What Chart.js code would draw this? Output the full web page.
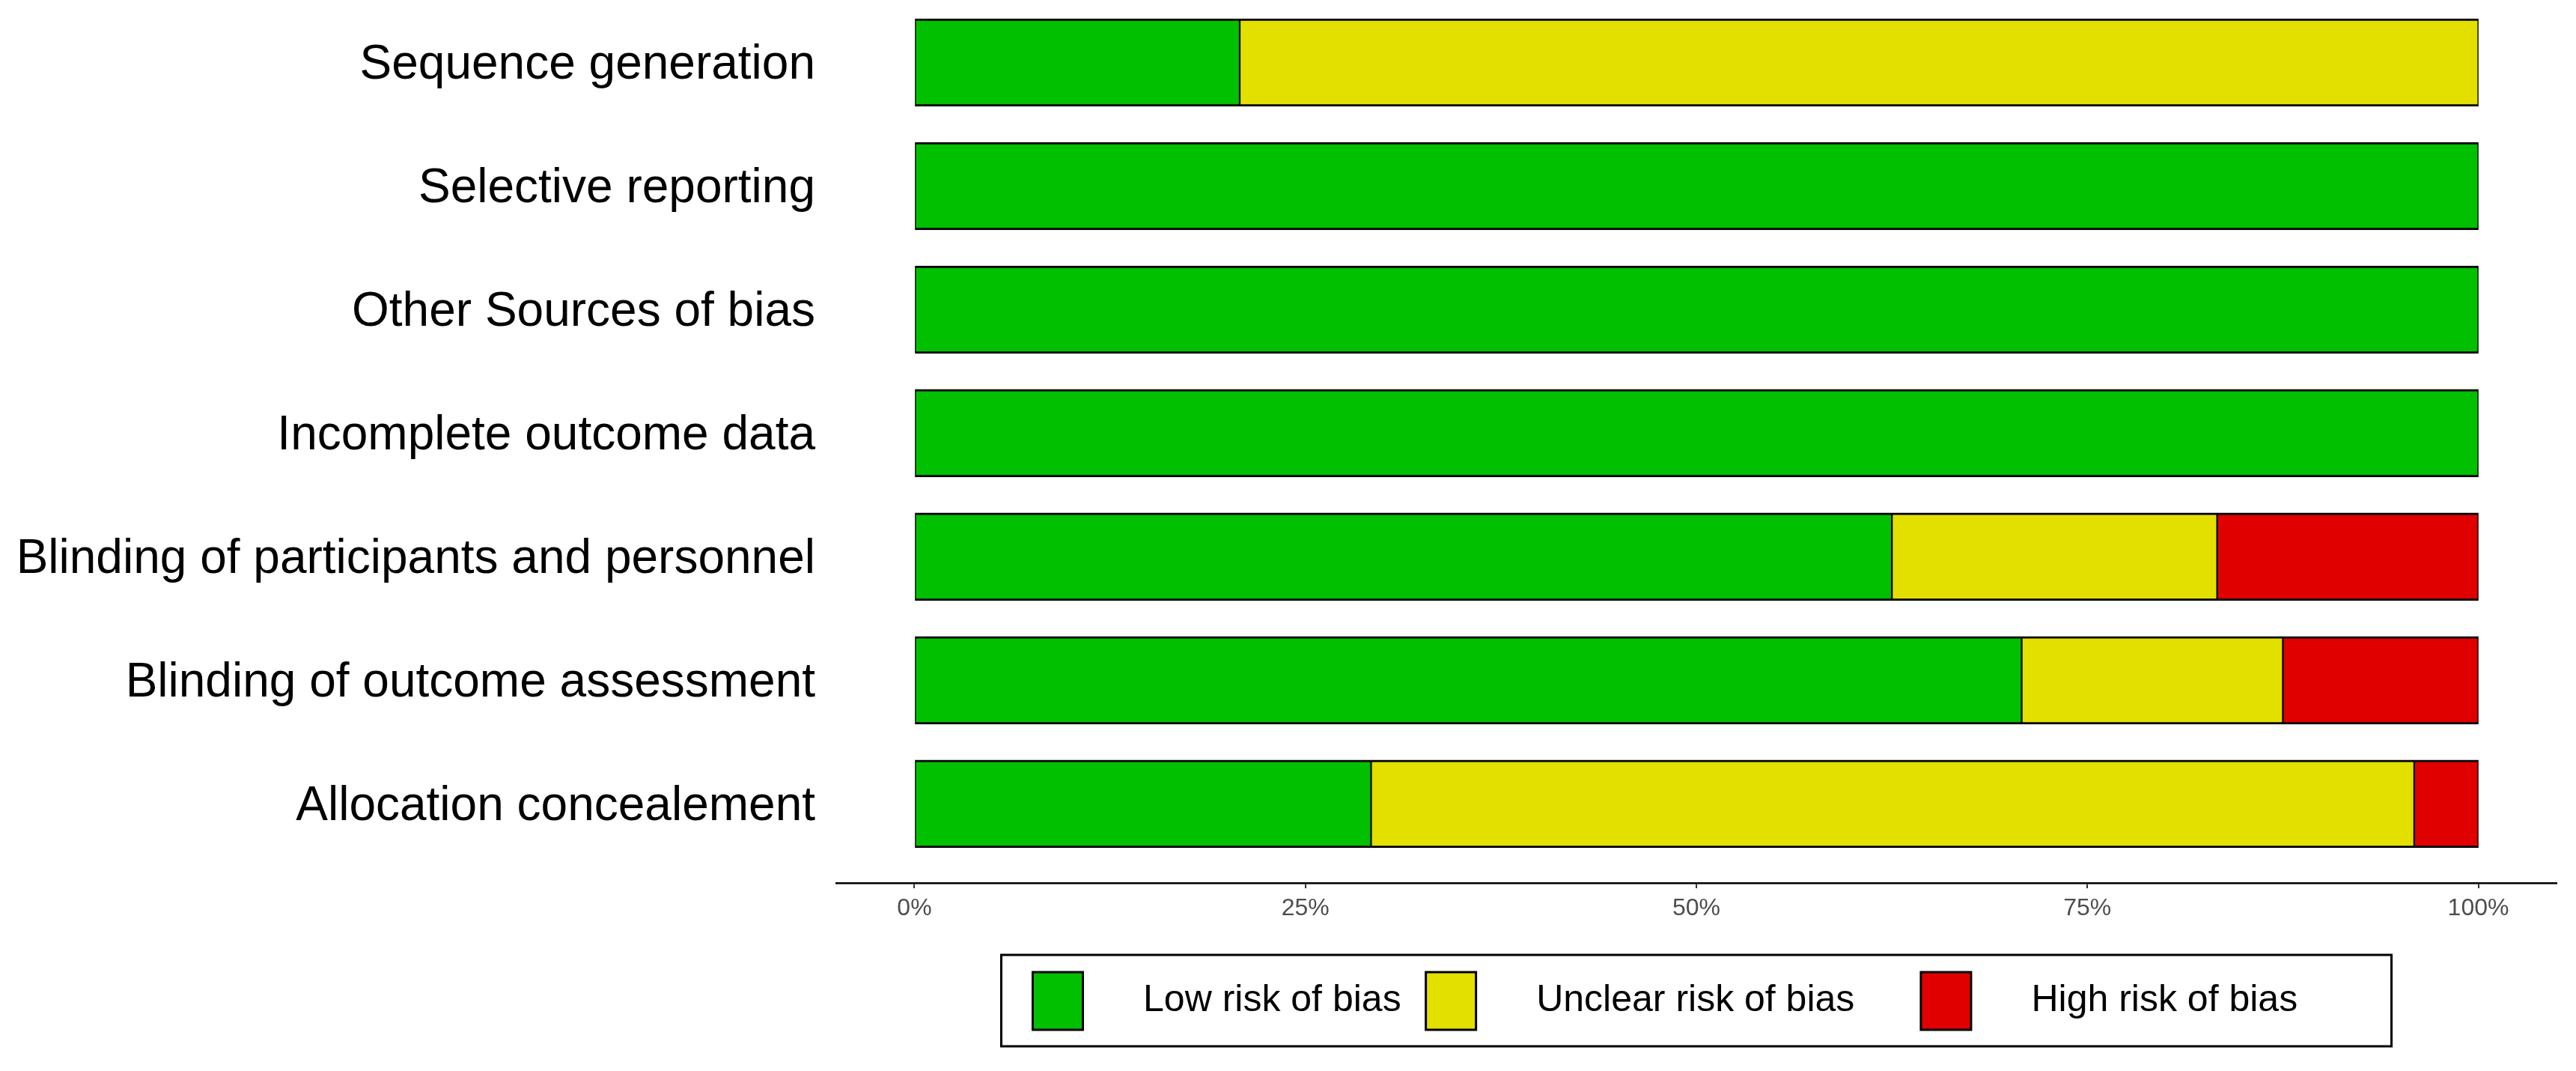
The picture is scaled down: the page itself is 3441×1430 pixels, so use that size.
<!DOCTYPE html>
<html>
<head>
<meta charset="utf-8">
<script src="https://cdn.jsdelivr.net/npm/chart.js@4.4.1/dist/chart.umd.min.js"></script>
<style>
  html, body { margin: 0; padding: 0; background: #fff; }
  #wrap { width: 3441px; height: 1430px; position: relative; }
</style>
</head>
<body>
<div id="wrap"><canvas id="myChart"></canvas></div>
<script>
'use strict';

// categories, top to bottom
var domains = [
  'Sequence generation',
  'Selective reporting',
  'Other Sources of bias',
  'Incomplete outcome data',
  'Blinding of participants and personnel',
  'Blinding of outcome assessment',
  'Allocation concealement'
];

// percent of studies per judgement
var lowRisk     = [20.8, 100, 100, 100, 62.5, 70.8, 29.2];
var unclearRisk = [79.2, 0, 0, 0, 20.8, 16.7, 66.7];
var highRisk    = [0, 0, 0, 0, 16.7, 12.5, 4.1];

var xTicks = [0, 25, 50, 75, 100];
var seriesNames = ['Low risk of bias', 'Unclear risk of bias', 'High risk of bias'];

// spacing around legend text (ggplot leaves wide gaps)
var legendPadLeft = ['    ', '    ', '    '];
var legendPadRight = ['', '    ', '      '];

function points(values) {
  return values.map(function(v, i) { return { x: v, y: i }; });
}

Chart.defaults.font.family = '"Liberation Sans", Arial, sans-serif';

var barBorder = { top: 3, bottom: 3, left: 1.5, right: 1.5 };

var legendFrame = {
  id: 'legendFrame',
  afterDraw: function(chart) {
    var hb = chart.legend.legendHitBoxes;
    if (!hb || !hb.length) return;
    var first = hb[0], last = hb[hb.length - 1];
    var ctx = chart.ctx;
    ctx.save();
    ctx.strokeStyle = '#000';
    ctx.lineWidth = 3;
    var left = first.left - 42;
    var right = last.left + last.width + 42;
    ctx.strokeRect(left, first.top - 23, right - left, 122);
    ctx.restore();
  }
};

var ctx = document.getElementById('myChart').getContext('2d');

var chart = new Chart(ctx, {
  type: 'bar',
  data: {
    datasets: [{
      label: seriesNames[0],
      backgroundColor: '#00C000',
      data: points(lowRisk)
    },
    {
      label: seriesNames[1],
      backgroundColor: '#E3E000',
      data: points(unclearRisk)
    },
    {
      label: seriesNames[2],
      backgroundColor: '#E00000',
      data: points(highRisk)
    }]
  },
  options: {
    indexAxis: 'y',
    responsive: true,
    maintainAspectRatio: false,
    animation: false,
    datasets: {
      bar: {
        borderColor: '#000',
        borderWidth: barBorder,
        borderSkipped: false,
        barThickness: 117
      }
    },
    layout: { padding: { top: 1, right: 26, bottom: 45, left: 0 } },
    scales: {
      x: {
        type: 'linear',
        stacked: true,
        min: -5,
        max: 105,
        afterBuildTicks: function(scale) {
          scale.ticks = xTicks.map(function(v) { return { value: v }; });
        },
        afterFit: function(scale) {
          scale.height = 86;
          scale.paddingLeft = 0;
          scale.paddingRight = 0;
        },
        ticks: {
          color: '#4D4D4D',
          font: { size: 32 },
          padding: 8,
          maxRotation: 0,
          callback: function(v) { return v + '%'; }
        },
        grid: {
          drawOnChartArea: false,
          drawTicks: true,
          tickLength: 7,
          color: '#333',
          lineWidth: 2
        },
        border: { display: true, color: '#000', width: 2.5 }
      },
      y: {
        type: 'linear',
        stacked: true,
        reverse: true,
        offset: false,
        min: -0.5,
        max: 6.64,
        afterBuildTicks: function(scale) {
          scale.ticks = domains.map(function(d, i) { return { value: i }; });
        },
        afterFit: function(scale) {
          scale.width = 1117;
          scale.paddingTop = 0;
          scale.paddingBottom = 0;
        },
        ticks: {
          color: '#000',
          font: { size: 64 },
          padding: 20,
          labelOffset: 4,
          callback: function(v) { return domains[v]; }
        },
        grid: { display: false, offset: false },
        border: { display: false }
      }
    },
    plugins: {
      tooltip: { enabled: false },
      legend: {
        position: 'bottom',
        fullSize: false,
        labels: {
          boxWidth: 67,
          boxHeight: 77,
          padding: 33,
          color: '#000',
          font: { size: 50 },
          generateLabels: function(chart) {
            return chart.data.datasets.map(function(ds, i) {
              return {
                text: legendPadLeft[i] + ds.label + legendPadRight[i],
                fillStyle: ds.backgroundColor,
                strokeStyle: '#000',
                lineWidth: 3,
                datasetIndex: i,
                hidden: false
              };
            });
          }
        }
      }
    }
  },
  plugins: [legendFrame]
});
</script>
</body>
</html>
